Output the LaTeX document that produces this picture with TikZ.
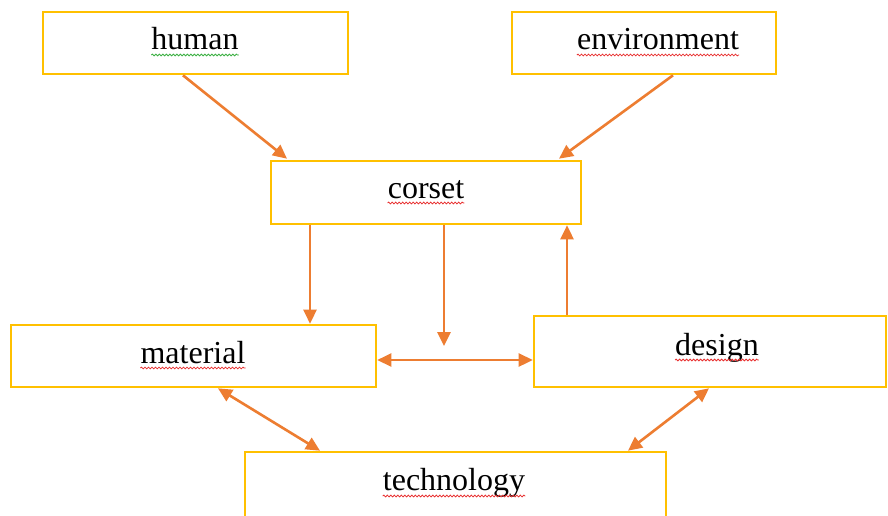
\documentclass[tikz,border=0pt]{standalone}
\usepackage{fontspec}
\setmainfont{Liberation Serif}
\usetikzlibrary{arrows.meta,calc,decorations.pathmorphing}
\definecolor{boxgold}{HTML}{FFC000}
\definecolor{arrorange}{HTML}{ED7D31}
\definecolor{spellred}{HTML}{E83030}
\definecolor{spellgreen}{HTML}{3CB043}
\tikzset{
  box/.style={draw=boxgold, line width=2.6pt, rectangle, inner sep=0pt, fill=white},
  lbl/.style={inner sep=0pt, anchor=base, font=\fontsize{32}{38}\selectfont},
  conn/.style={draw=arrorange, line width=2.6pt, -{Triangle[length=14pt,width=13pt]}},
  bconn/.style={draw=arrorange, line width=2.6pt, {Triangle[length=14pt,width=13pt]}-{Triangle[length=14pt,width=13pt]}},
  squig/.style={line width=0.8pt, decorate, decoration={snake, segment length=3.5pt, amplitude=0.9pt}}
}
\begin{document}
\begin{tikzpicture}[x=1pt,y=-1pt]
\useasboundingbox (0,0) rectangle (888,516);
\clip (0,0) rectangle (888,516);
\fill[white] (0,0) rectangle (888,516);
% boxes
\node[box, minimum width=305pt, minimum height=62pt] (human) at (195.5,43) {};
\node[box, minimum width=264pt, minimum height=62pt] (env) at (644,43) {};
\node[box, minimum width=310pt, minimum height=63pt] (corset) at (426,192.5) {};
\node[box, minimum width=365pt, minimum height=62pt] (material) at (193.5,356) {};
\node[box, minimum width=352pt, minimum height=71pt] (design) at (710,351.5) {};
\node[box, minimum width=421pt, minimum height=100pt] (tech) at (455.5,502) {};
% labels
\node[lbl] (thuman) at (195,50) {human};
\node[lbl] (tenv) at (658,50) {environment};
\node[lbl] (tcorset) at (426,198) {corset};
\node[lbl] (tmaterial) at (193,363) {material};
\node[lbl] (tdesign) at (717,355) {design};
\node[lbl] (ttech) at (454,490) {technology};
% spell-check underlines
\draw[squig, spellgreen] ($(thuman.base west)+(0,5)$) -- ($(thuman.base east)+(0,5)$);
\draw[squig, spellred] ($(tenv.base west)+(0,5)$) -- ($(tenv.base east)+(0,5)$);
\draw[squig, spellred] ($(tcorset.base west)+(0,5)$) -- ($(tcorset.base east)+(0,5)$);
\draw[squig, spellred] ($(tmaterial.base west)+(0,5)$) -- ($(tmaterial.base east)+(0,5)$);
\draw[squig, spellred] ($(tdesign.base west)+(0,5)$) -- ($(tdesign.base east)+(0,5)$);
\draw[squig, spellred] ($(ttech.base west)+(0,6)$) -- ($(ttech.base east)+(0,6)$);
% connectors
\coordinate (mid) at (444,346);
\draw[conn] ([xshift=-12.5pt]human.south) -- ([xshift=-139pt,yshift=1pt]corset.north);
\draw[conn] ([xshift=29pt]env.south) -- ([xshift=133pt,yshift=1pt]corset.north);
\coordinate (cm) at ([xshift=-116pt]corset.south);
\draw[conn] (cm) -- (cm |- material.north);
\draw[conn] ([xshift=18pt]corset.south) -- (mid);
\coordinate (dc) at ([xshift=-143pt]design.north);
\draw[conn] (dc) -- (dc |- corset.south);
\coordinate (md) at ([yshift=-4pt]material.east);
\draw[bconn] (md) -- (md -| design.west);
\draw[bconn] ([xshift=24.5pt]material.south) -- ([xshift=-135.5pt]tech.north);
\draw[bconn] ([xshift=-1pt]design.south) -- ([xshift=172.5pt]tech.north);
\end{tikzpicture}
\end{document}
